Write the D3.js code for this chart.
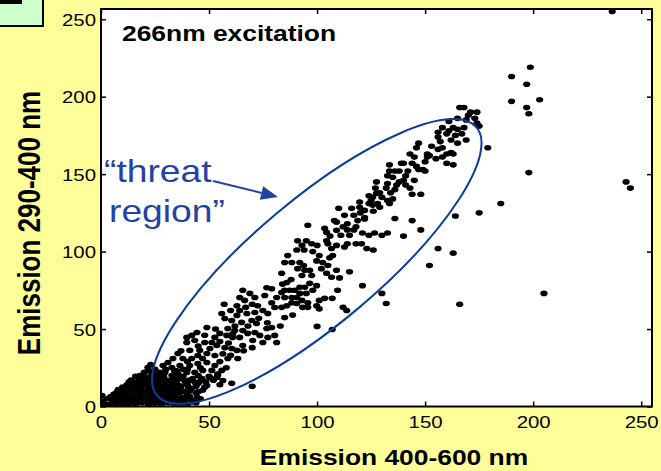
<!DOCTYPE html>
<html>
<head>
<meta charset="utf-8">
<script src="https://cdn.jsdelivr.net/npm/d3@7"></script>
<style>
  html, body { margin: 0; padding: 0; background: #FFFF99; }
  svg { display: block; font-family: Arial, "Liberation Sans", sans-serif; }
</style>
</head>
<body>
<div id="chart"></div>
<script>
// Data: [emission 400-600 nm, emission 290-400 nm]
const coreCluster = [
  [0.3,0.8],[2,1.2],[1,3.5],[0.5,7],
  [4,1.5],[7,2],[10,1],[13,2],[16,1.5],[19,2.5],[22,1],[25,2],[28,1.5],[31,2.5],[34,1],[37,2],[40,1.5],[44,2.5],
  [5.5,3],[8.5,3.5],[11.5,3],[14.5,3.5],[17.5,3],[20.5,3.5],[23.5,3],[26.5,3.5],[29.5,3],[32.5,3.5],[35.5,3],[38.5,3.5],[42,3],
  [3,5],[6,4],[9,5],[12,4.5],[15,4],[18,5.5],[21,4],[24,5],[27,4.5],[30,4],[33,5.5],[36,4.5],[39,5],[42,4],[46,5],
  [4.5,6.5],[7.5,6],[10.5,6.5],[13.5,6],[16.5,6.5],[19.5,6],[22.5,6.5],[25.5,6],[28.5,6.5],[31.5,6],[34.5,6.5],[37.5,6],[41,6.5],[44.5,6],
  [6,8],[9,7.5],[12,8.5],[15,7],[18,8],[21,9],[24,7.5],[27,8.5],[30,7],[33,8],[36,9],[40,7.5],[44,8.5],
  [7.5,9.5],[10.5,10],[13.5,9.5],[16.5,10],[19.5,9.5],[22.5,10],[25.5,9.5],[28.5,10],[31.5,9.5],[34.5,10],[37.5,9.5],[41,10],[45,9.5],
  [8,11],[11,10.5],[14,12],[17,11],[20,10],[23,12],[26,11],[29,10.5],[32,12],[35,11],[38,10],[42,11.5],[47,10.5],
  [10,12.5],[13,13],[16,12.5],[19,13],[22,12.5],[25,13],[28,12.5],[31,13],[34,12.5],[37,13],[40.5,12.5],[44,13],[48,12.5],
  [12,14],[15,15],[18,13.5],[21,14.5],[24,15],[27,13.5],[30,14.5],[33,15],[36,13.5],[40,14],[45,15],[49,13.5],
  [13,16],[16.5,16],[19.5,16],[22.5,16],[25.5,16],[28.5,16],[31.5,16],[35,16],[39,16],[43.5,15.5],[48.5,16],[55,14],
  [14,17],[18,18],[21,17.5],[24,17],[27,18.5],[30,17],[33,17.5],[37,18],[41,17],[46,16.5],[52,17],
  [16,19.5],[20,19.5],[23,19.5],[26,20],[29,19.5],[34,19.5],[38,19.5],[45,20],[50,19.5],[54,20],
  [20,22],[23,27],[18,20],[22,23],[25,24],[30,24],[35,23],[40,24]
];

const lowerBand = [
  [65.6,75],[68.9,73],[71.2,70.4],[64.2,70.4],[66.5,68.5],[76.7,76.7],[79,76],[75.8,71.7],[79,67],[81.3,70.4],
  [72.5,65],[74.9,62],[71.2,60.7],[77.2,60],[80.4,63.9],[62.9,65],[64.2,62],[67.5,60],[69.8,55.5],[72,53.6],
  [62.9,58.8],[60.5,55.5],[65.1,54.3],[57.3,56.8],[55.9,60],[58.7,50.4],[61.9,49],[65.6,49],[67.9,47.2],[71.2,47.8],
  [73.5,45.9],[76.7,50.4],[79,51],[77.2,44.6],[80.4,45.9],[81.3,41.3],[74.9,41.3],[70.2,42.6],[64.2,44.6],[60.9,44.6],
  [58.2,45.9],[55,47.2],[52.7,44.6],[49,51],[44.4,47.8],[42,45.9],[39.7,44.6],[43.4,42.6],[48,41.3],[51.3,41.3],
  [53.6,39.4],[50.4,37.4],[45.7,36.2],[41.1,36.2],[39.7,41.3],[57.3,38],[60.5,37.4],[62.9,36.2],[65.6,39.4],[56.4,34],
  [58.7,31],[63.3,31],[52.7,32.9],[49,34.2],[44.8,32.9],[42,31],[37.9,31],[35.6,34.2],[33.3,31],[31,28.4],
  [28.7,26.5],[32.8,25.2],[36.5,26.5],[41.1,26.5],[44.8,27.8],[49,28.4],[52.7,26.5],[55.9,23.3],[51.3,23.3],[47.1,23.3],
  [43.4,22],[39.7,22],[35.6,21.3],[32.8,20],[29.6,22],[27.3,22],[25.9,18.7],[21.7,25.2],[24,21.3],[27.3,18.1],
  [31,16.8],[35.1,18.1],[38.8,16.8],[42.5,18.1],[46.7,18.1],[50.4,18.7],[53.6,18.7],[56.4,16.8],
  [34,23],[38,24],[46,25],[54,21],[58,25],[40,29],[47,31],[55,29],[60,33],[37,36],
  [45,39],[55,42],[61,47],[68,52],[73,57],[59,41],[66,36],[70,38],[48,46],[53,50],
  [62,52],[67,64],[70,66],[77,54],[83,52],[60,62],[57,66],[86,80],[88,82],[84,79]
];

const middleBand = [
  [91,107],[95,107],[97.5,105],[93,104],[94,101],[90.6,101],
  [104.4,107],[105,105],[114,105],[109,104],[106.7,102],[112.7,103],[118,105],[120.6,105],[123,102],[126,101],
  [86.4,97.5],[88.3,93],[85,93],[83.6,86],[92,93],[93.8,91],[91,89],[94.3,88],[96.6,88],[93,84.6],[97.5,84.6],
  [99.8,94],[101,97.5],[102.6,93],[105,91],[102,89],[105.8,96],[107.2,97.5],[104.4,86],[106.7,83.4],[109,88],[115,87],[110.4,83],
  [96.6,79.5],[94.3,77],[92,77],[89.6,75],[87.3,75],[88.3,70.4],[90.6,70.4],[92,73],[95,73],[93,68.5],[95.7,67],[98,75],[99.8,78],
  [83.6,73.6],[85,75],[85,70.4],
  [83.6,64],[86,65],[88.3,67],[90.6,66.5],[93.3,64],[95.7,64],[99.8,65],[101,68.5],[103.5,69.8],[107,69.8],[109.5,75],[112,64],[113.7,62],[121,78],
  [88.7,59],[85,57.5],[101,63],[100,104],[98,100],[106,110]
];

const upperBand = [
  [133.5,156],[133.5,152],[136,152],[132.6,149],[135,148],
  [127.5,145],[132.6,144],[136.8,143],[136,140],[132,141],
  [124,136],[125.7,135],[129,138],[127.5,137.6],[125,133],[124,131],[125.7,130],[129,128.6],[128,131],[132.6,133],[133.5,131],[135,134],
  [119.7,132],[119.7,128.6],[116,128],[122,126.6],[122,122],
  [110,128],[112.7,123.4],[117,123.4],[118.8,120],[122,121],
  [108,120],[109,119],[112,116],[114,114],[117,114],
  [103.5,115],[104.4,112.4],[109,113.7],[111,110.5],[115,110.5],[121,112],[124,110.5],[126.6,112],[130,110.5],[132.6,112],[136,121.4],
  [95.7,117],[114,118],[120,125],[126,126],[130,135],[134,138],[138,145],[127,141],[118,116]
];

const topBand = [
  [166,193],[168,193],[174,190],[171,190],[173,186],[169,185],[165,186],[161,184],[174,183],[175,181],
  [163,180],[165,179],[156,177],[161,178],[160,176],[164,175],[167,176],[156,174],[169,172],[165,170],
  [157,171],[147,170],[146,167],[158,167],[156,166],[143,163],[151,163],[151,161],[160,163],[163,163],
  [158,161],[145,161],[140,157],[160,157],[163,156],[144,157],[146,155],[147,153],[150,152],[149,153],
  [142,152],[141,149],[145,146],[140,146],[141,143],[143,141],[144,137],[148,137],[139,157],[162,164],[152,162],[138,152],
  [150,158],[155,160],[153,168],[162,172],[168,180],[158,180],[170,188]
];

const outliers = [
  [236.6,255],[198.7,219],[190,213],[197,208],[190,197],[203,198],[197,193],[198,189],[179,167],[198,151],
  [243,145],[245,141],[185,131],[175,125],[164,123],[144,120],[148,114],[140,110],[156,102],[163,99],
  [152,91],[205,73],[166,66],[130,73],[132,66.5],[100,51.7],[107,49.7],[70,13],[60.5,15]
];

const xTicks = [0, 50, 100, 150, 200, 250];
const yTicks = [0, 50, 100, 150, 200, 250];

// "threat region" ellipse: its two tips in data units and minor/major ratio
const threatTips = [[25.9, 7.1], [173.8, 180.2]];
const threatRatio = 0.30;

const W = 661, H = 471;
const SX = 1.2; // the slide is stretched horizontally
const plot = { left: 101, top: 9, right: 652, bottom: 406.5 };

const svg = d3.select('#chart').append('svg')
  .attr('width', W).attr('height', H);

svg.append('rect').attr('width', W).attr('height', H).attr('fill', '#FFFF99');

// corner box, cut off at the top left
svg.append('rect').attr('x', -2).attr('y', -2).attr('width', 45).attr('height', 28)
  .attr('fill', '#CCFFCC').attr('stroke', '#000').attr('stroke-width', 2);
svg.append('rect').attr('x', 0).attr('y', 0).attr('width', 22).attr('height', 4).attr('fill', '#000');

const x = d3.scaleLinear().domain([0, 255]).range([plot.left, plot.right]);
const y = d3.scaleLinear().domain([0, 256.6]).range([plot.bottom, plot.top]);

svg.append('rect')
  .attr('x', plot.left).attr('y', plot.top)
  .attr('width', plot.right - plot.left).attr('height', plot.bottom - plot.top)
  .attr('fill', '#fff');

svg.append('clipPath').attr('id', 'clip').append('rect')
  .attr('x', plot.left).attr('y', plot.top)
  .attr('width', plot.right - plot.left).attr('height', plot.bottom - plot.top);

const dots = svg.append('g').attr('clip-path', 'url(#clip)');
const allPoints = [].concat(coreCluster, lowerBand, middleBand, upperBand, topBand, outliers);
dots.selectAll('ellipse').data(allPoints).join('ellipse')
  .attr('cx', d => x(d[0]))
  .attr('cy', d => y(d[1]))
  .attr('rx', 3.6).attr('ry', 2.8)
  .attr('fill', '#000');

// threat ellipse
const p1 = [x(threatTips[0][0]), y(threatTips[0][1])];
const p2 = [x(threatTips[1][0]), y(threatTips[1][1])];
const ecx = (p1[0] + p2[0]) / 2, ecy = (p1[1] + p2[1]) / 2;
const ea = Math.hypot(p2[0] - p1[0], p2[1] - p1[1]) / 2;
const eang = Math.atan2(p2[1] - p1[1], p2[0] - p1[0]) * 180 / Math.PI;
svg.append('ellipse')
  .attr('transform', `translate(${ecx},${ecy}) rotate(${eang})`)
  .attr('rx', ea).attr('ry', ea * threatRatio)
  .attr('fill', 'none').attr('stroke', '#0B3C9E').attr('stroke-width', 2);

// axes (ticks point inward on all four sides)
const gx = svg.append('g').attr('transform', `translate(0,${plot.bottom})`)
  .call(d3.axisBottom(x).tickValues(xTicks).tickSizeInner(-5).tickSizeOuter(0).tickPadding(9));
const gxt = svg.append('g').attr('transform', `translate(0,${plot.top})`)
  .call(d3.axisTop(x).tickValues(xTicks).tickSizeInner(-5).tickSizeOuter(0).tickFormat(''));
const gy = svg.append('g').attr('transform', `translate(${plot.left},0)`)
  .call(d3.axisLeft(y).tickValues(yTicks).tickSizeInner(-5).tickSizeOuter(0));
const gyr = svg.append('g').attr('transform', `translate(${plot.right},0)`)
  .call(d3.axisRight(y).tickValues(yTicks).tickSizeInner(-5).tickSizeOuter(0).tickFormat(''));

[gx, gxt, gy, gyr].forEach(g => {
  g.select('.domain').remove();
  g.selectAll('line').attr('stroke', '#000').attr('stroke-width', 1.5);
});

gx.selectAll('text')
  .attr('fill', '#000').style('font-size', '17px')
  .attr('dy', '0.71em')
  .attr('transform', `scale(${SX},1)`);

gy.selectAll('text')
  .attr('fill', '#000').style('font-size', '17px')
  .attr('x', -5 / SX).attr('dy', '0.36em')
  .attr('transform', `scale(${SX},1)`);

svg.append('rect')
  .attr('x', plot.left).attr('y', plot.top)
  .attr('width', plot.right - plot.left).attr('height', plot.bottom - plot.top)
  .attr('fill', 'none').attr('stroke', '#000').attr('stroke-width', 2);

// stretched text helper
function stretchText(px, py, str, size, opts) {
  opts = opts || {};
  const g = svg.append('g')
    .attr('transform', `translate(${px},${py}) scale(${opts.sx || SX},1)` + (opts.rotate ? ` rotate(${opts.rotate})` : ''));
  return g.append('text')
    .attr('text-anchor', opts.anchor || 'start')
    .attr('fill', opts.color || '#000')
    .style('font-size', size + 'px')
    .style('font-weight', opts.bold ? 'bold' : 'normal')
    .text(str);
}

stretchText(122, 41, '266nm excitation', 22, { bold: true });
stretchText(394, 465, 'Emission 400-600 nm', 22, { bold: true, anchor: 'middle' });
stretchText(40, 223, 'Emission 290-400 nm', 26, { bold: true, anchor: 'middle', rotate: -90, sx: 1.18 });

// annotation
const blue = '#2342A3';
stretchText(104, 182, '\u201Cthreat', 31, { color: blue });
stretchText(109, 222, 'region\u201D', 31, { color: blue });

const arrowFrom = [213, 181], arrowTo = [278, 197];
const adx = arrowTo[0] - arrowFrom[0], ady = arrowTo[1] - arrowFrom[1];
const alen = Math.hypot(adx, ady);
const ux = adx / alen, uy = ady / alen;
const headL = 17, headW = 7;
const base = [arrowTo[0] - ux * headL, arrowTo[1] - uy * headL];
svg.append('line')
  .attr('x1', arrowFrom[0]).attr('y1', arrowFrom[1])
  .attr('x2', base[0]).attr('y2', base[1])
  .attr('stroke', blue).attr('stroke-width', 2);
svg.append('path')
  .attr('d', d3.line()([
    arrowTo,
    [base[0] - uy * headW, base[1] + ux * headW],
    [base[0] + uy * headW, base[1] - ux * headW]
  ]) + 'Z')
  .attr('fill', blue);
</script>
</body>
</html>
